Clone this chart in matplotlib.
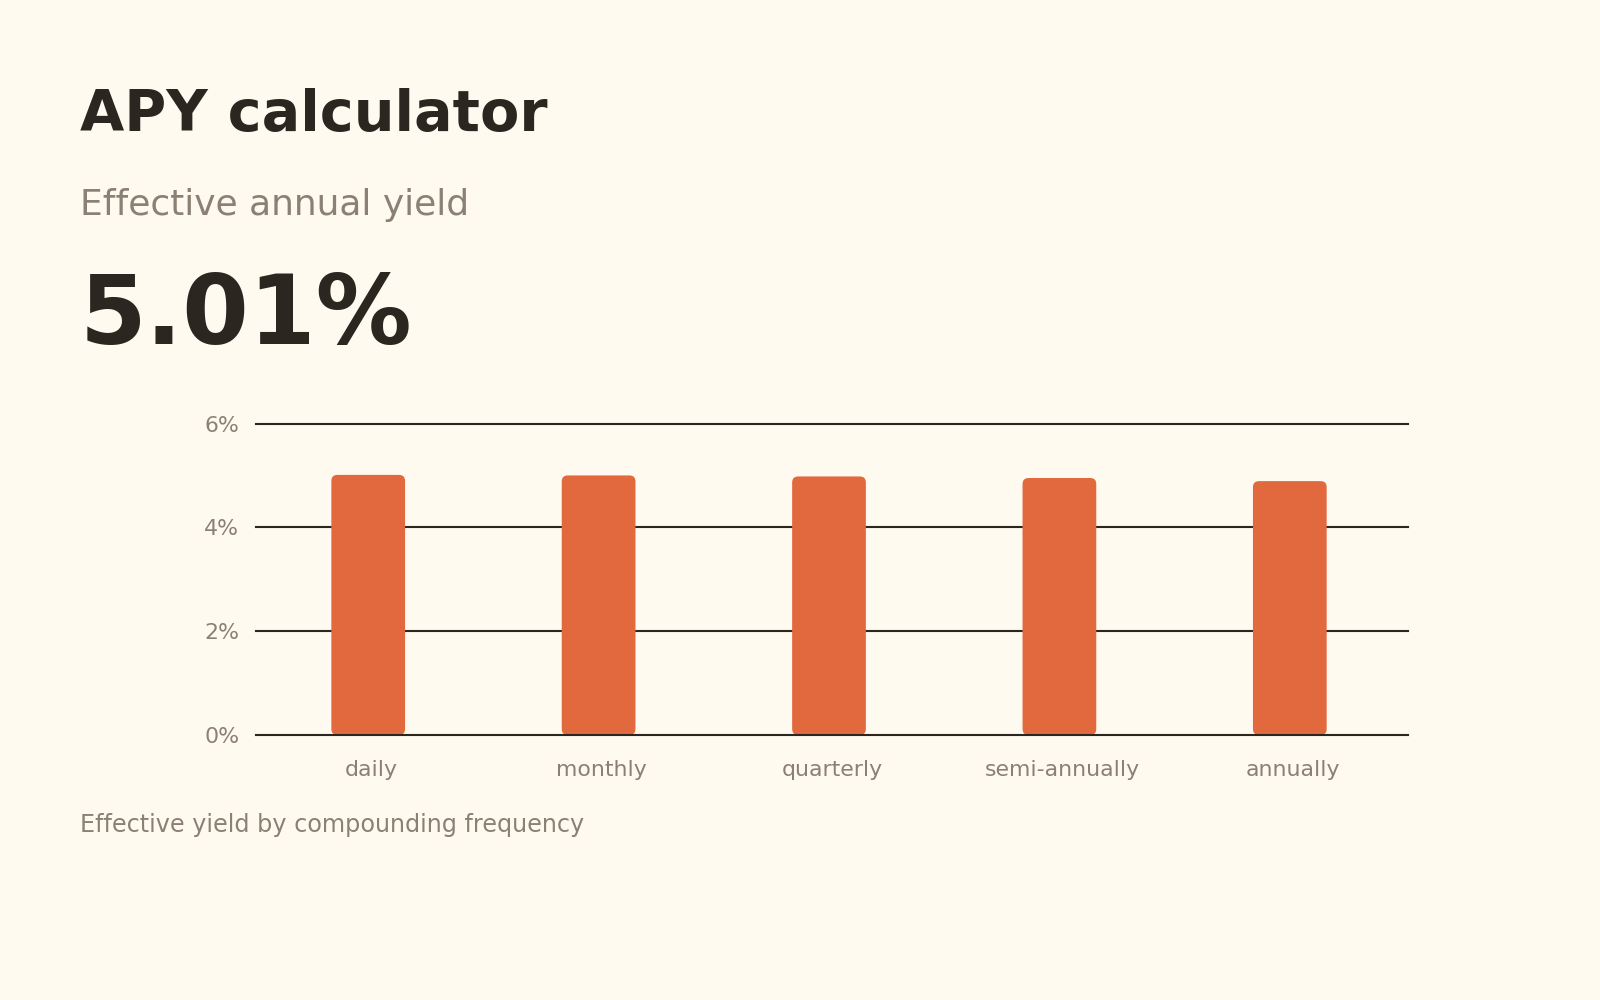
import matplotlib
matplotlib.use("Agg")
import matplotlib.pyplot as plt
from matplotlib.patches import FancyBboxPatch
from matplotlib.ticker import FuncFormatter

plt.rcParams['font.family'] = ['DejaVu Sans']

categories = ["daily", "monthly", "quarterly", "semi-annually", "annually"]
apy_values = [5.01, 5.00, 4.98, 4.95, 4.89]
y_ticks = [0, 2, 4, 6]
title = "APY calculator"
subtitle = "Effective annual yield"
headline = "5.01%"
footer = "Effective yield by compounding frequency"

BG = "#FFFAF0"
DARK = "#2B2720"
GRAY = "#8A8073"
BAR = "#E2693E"

fig = plt.figure(figsize=(16, 10), dpi=100, facecolor=BG)

fig.text(0.05, 1 - 131.5 / 1000, title, fontsize=41.2, fontweight="bold", color=DARK, va="baseline", ha="left")
fig.text(0.05, 1 - 215 / 1000, subtitle, fontsize=25.9, color=GRAY, va="baseline", ha="left")
fig.text(0.05, 1 - 344 / 1000, headline, fontsize=69, fontweight="bold", color=DARK, va="baseline", ha="left")
fig.text(0.05, 1 - 832 / 1000, footer, fontsize=17.2, color=GRAY, va="baseline", ha="left")

ax = fig.add_axes([256 / 1600, 1 - 735 / 1000, (1408 - 256) / 1600, (735 - 423.5) / 1000])
ax.set_facecolor(BG)
x = list(range(len(categories)))
bw = 0.32
bar_shift = -0.013
bars = ax.bar([xi + bar_shift for xi in x], apy_values, width=bw, color=BAR, zorder=2)
ax.set_xlim(-0.5, len(categories) - 0.5)
ax.set_ylim(0, 6)

# rounded bars
px_per_x = 1152 / len(categories)
px_per_y = 311.5 / 6
r = 6 / px_per_x
for b in bars:
    b.set_visible(False)
    p = FancyBboxPatch((b.get_x(), b.get_y()), b.get_width(), b.get_height(),
                       boxstyle=f"round,pad=0,rounding_size={r}",
                       mutation_aspect=px_per_x / px_per_y,
                       facecolor=BAR, edgecolor="none", zorder=2)
    ax.add_patch(p)

for t in y_ticks:
    ax.axhline(t, color=DARK, linewidth=1.5, zorder=1 if t else 3, clip_on=False)

ax.set_yticks(y_ticks)
ax.yaxis.set_major_formatter(FuncFormatter(lambda v, _: f"{v:.0f}%"))
ax.set_xticks(x)
ax.set_xticklabels(categories)
ax.tick_params(axis="both", length=0, colors=GRAY, labelsize=15.8)
ax.tick_params(axis="y", pad=12)
ax.tick_params(axis="x", pad=18)
for s in ax.spines.values():
    s.set_visible(False)

fig.savefig("out.png", dpi=100, facecolor=BG)
